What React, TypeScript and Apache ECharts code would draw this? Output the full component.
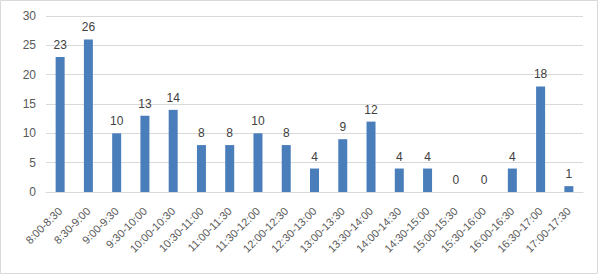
import React, { useEffect, useRef } from "react";
import * as echarts from "echarts";

const categories = [
  "8:00-8:30", "8:30-9:00", "9:00-9:30", "9:30-10:00", "10:00-10:30",
  "10:30-11:00", "11:00-11:30", "11:30-12:00", "12:00-12:30", "12:30-13:00",
  "13:00-13:30", "13:30-14:00", "14:00-14:30", "14:30-15:00", "15:00-15:30",
  "15:30-16:00", "16:00-16:30", "16:30-17:00", "17:00-17:30",
];
const values = [23, 26, 10, 13, 14, 8, 8, 10, 8, 4, 9, 12, 4, 4, 0, 0, 4, 18, 1];

export default function App() {
  const ref = useRef<HTMLDivElement>(null);
  useEffect(() => {
    const chart = echarts.init(ref.current!, null, { renderer: "svg" });
    chart.setOption({
      animation: false,
      textStyle: { fontFamily: "Liberation Sans, Arial, sans-serif" },
      graphic: [
        {
          type: "rect",
          shape: { x: 0.5, y: 0.5, width: 597, height: 273 },
          style: { fill: "none", stroke: "#d9d9d9", lineWidth: 1 },
          silent: true,
        },
      ],
      grid: { left: 46, right: 17, top: 16, bottom: 83 },
      xAxis: {
        type: "category",
        data: categories,
        axisTick: { show: false },
        axisLine: { lineStyle: { color: "#d9d9d9" } },
        axisLabel: {
          rotate: 45,
          interval: 0,
          color: "#595959",
          fontSize: 11,
          margin: 17,
        },
      },
      yAxis: {
        type: "value",
        min: 0,
        max: 30,
        interval: 5,
        axisLine: { show: false },
        axisTick: { show: false },
        splitLine: { lineStyle: { color: "#d9d9d9" } },
        axisLabel: { color: "#595959", fontSize: 12, margin: 10 },
      },
      series: [
        {
          type: "bar",
          data: values,
          barWidth: 9,
          itemStyle: { color: "#4a7ebb" },
          label: {
            show: true,
            position: "top",
            color: "#404040",
            fontSize: 12,
            distance: 6,
          },
        },
      ],
    });
    return () => chart.dispose();
  }, []);
  return (
    <div
      ref={ref}
      style={{ position: "absolute", left: 0, top: 0, width: 600, height: 275, background: "#fff" }}
    />
  );
}
